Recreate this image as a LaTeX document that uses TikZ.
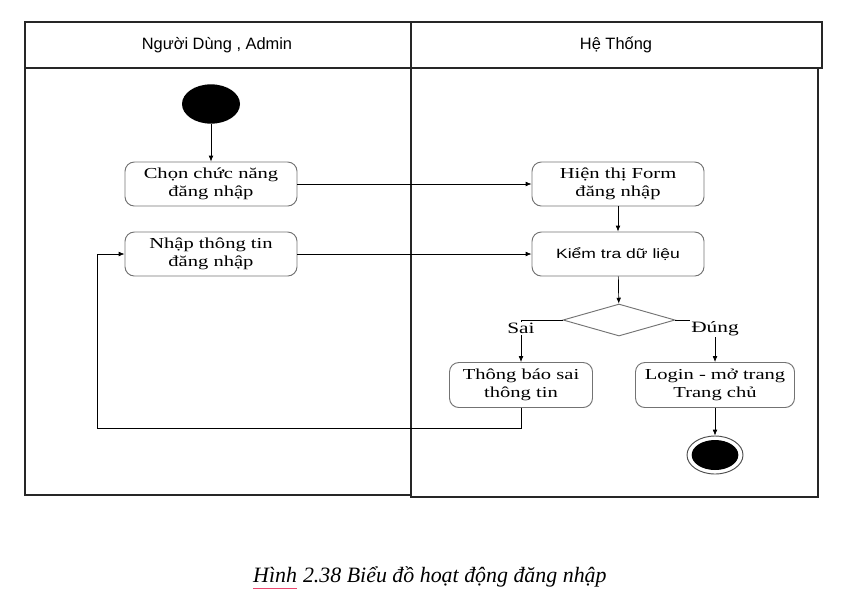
\documentclass[tikz,border=0pt]{standalone}
\usepackage{fontspec}
\setmainfont{Liberation Serif}
\setsansfont{Liberation Sans}
\newfontfamily\boxfont[FakeStretch=1.35]{Liberation Serif}
\newfontfamily\checkfont[FakeStretch=1.3]{Liberation Sans}
\usetikzlibrary{shapes.geometric,arrows.meta}
\definecolor{spellred}{RGB}{235,70,110}
\tikzset{
	activity/.style={draw=black!55, line width=.8pt, rounded corners=8pt,
		minimum width=5.16cm, minimum height=1.32cm, align=center,
		font=\boxfont\fontsize{13}{15}\selectfont, inner sep=2pt},
	flow/.style={-{Latex[length=5pt,width=4pt]}, line width=.6pt},
	lane/.style={draw=black!85, line width=1pt},
	laneHead/.style={font=\sffamily\fontsize{14}{16}\selectfont},
	guard/.style={font=\boxfont\fontsize{13.5}{15}\selectfont, fill=white, inner sep=1pt}
}
\begin{document}
\begin{tikzpicture}[x=0.03cm,y=-0.03cm]
\useasboundingbox (0,0) rectangle (845,602);

%swimlanes
\draw[lane] (25,22) rectangle (411,495);
\draw[lane] (411,22) rectangle (822,68);
\draw[lane] (411,68) -- (411,497) -- (818,497) -- (818,68);
\draw[lane] (25,68) -- (411,68);
\node[laneHead] (laneUser) at (217,45) {Người Dùng , Admin};
\node[laneHead] (laneSys) at (616,45) {Hệ Thống};

%user lane
\node[ellipse, fill=black, minimum width=1.74cm, minimum height=1.18cm] (start) at (211,104) {};
\node[activity] (chon) at (211,184) {Chọn chức năng\\đăng nhập};
\node[activity] (nhap) at (211,254) {Nhập thông tin\\đăng nhập};

%system lane
\node[activity] (form) at (618,184) {Hiện thị Form\\đăng nhập};
\node[activity, font=\checkfont\fontsize{11.5}{13}\selectfont] (kiemtra) at (618,254) {Kiểm tra dữ liệu};
\node[diamond, draw=black!55, line width=.8pt, minimum width=3.36cm,
	minimum height=0.96cm, inner sep=0pt] (check) at (619,320) {};
\node[activity, minimum width=4.29cm, minimum height=1.35cm] (sai) at (521,385) {Thông báo sai\\thông tin};
\node[activity, minimum width=4.77cm, minimum height=1.35cm] (login) at (715,385) {Login - mở trang\\Trang chủ};
\node[ellipse, draw=black!70, line width=.8pt, minimum width=1.68cm, minimum height=1.14cm] (stop) at (715,455) {};
\node[ellipse, fill=black, minimum width=1.4cm, minimum height=0.9cm] (stopDot) at (stop) {};

%flows
\draw[flow] (start) -- (chon);
\draw[flow] (chon) -- (form);
\draw[flow] (nhap) -- (kiemtra);
\draw[flow] (form) -- (kiemtra);
\draw[flow] (kiemtra) -- (check);
\draw[flow] (check.west) -| node[guard, yshift=-7pt] {Sai} (sai);
\draw[flow] (check.east) -| node[guard, yshift=-7pt] {Đúng} (login);
\draw[flow] (login) -- (stop);

% back to input
\coordinate (loopCorner) at (97,428);
\draw[flow] (sai.south) |- (loopCorner) |- (nhap.west);

%caption
\node[font=\itshape\fontsize{18.7}{20}\selectfont, anchor=base west, inner sep=0pt] (capFig) at (253,582) {Hình};
\node[font=\itshape\fontsize{18.7}{20}\selectfont, anchor=base west, inner sep=0pt] (capText) at (capFig.base east) {\ 2.38 Biểu đồ hoạt động đăng nhập};
\draw[spellred, line width=1.5pt] ([yshift=-5.5pt]capFig.base west) -- ([yshift=-5.5pt]capFig.base east);

\end{tikzpicture}
\end{document}
